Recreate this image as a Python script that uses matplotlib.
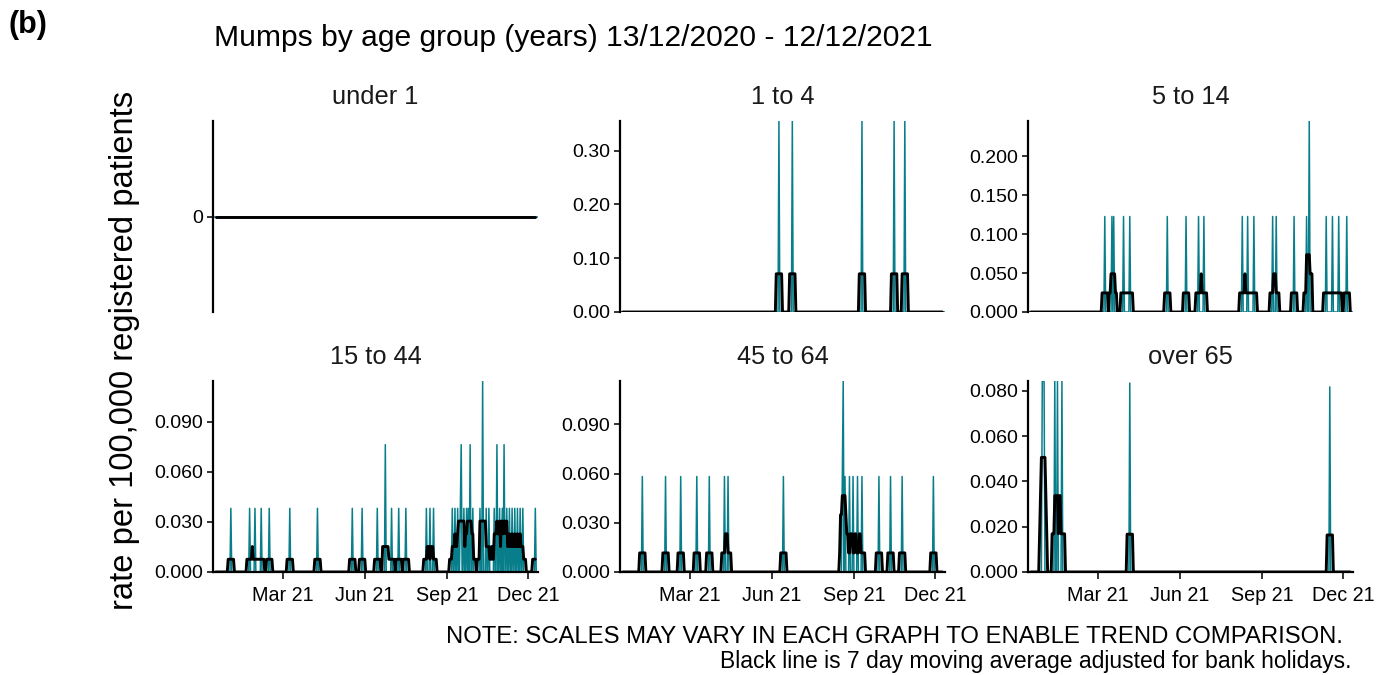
import numpy as np
import pandas as pd
import matplotlib
matplotlib.use("Agg")
import matplotlib.pyplot as plt

# ---------------- data ----------------
START = "2020-12-13"
END = "2021-12-12"

panel_titles = ["under 1", "1 to 4", "5 to 14", "15 to 44", "45 to 64", "over 65"]

# day offsets (from 13/12/2020) with recorded cases, and the daily rate per 100,000
under1_days = []
under1_rates = []

age1_4_days = [178, 193, 271, 307, 319]
age1_4_rates = [0.355, 0.355, 0.355, 0.355, 0.355]

age5_14_days = [86, 94, 96, 107, 114, 156, 177, 191, 197, 240, 246, 253, 274, 278,
                298, 312, 315, 334, 341, 348, 357]
age5_14_rates = [0.1225, 0.1225, 0.1225, 0.1225, 0.1225, 0.1225, 0.1225, 0.1225,
                 0.1225, 0.1225, 0.1225, 0.1225, 0.1225, 0.1225, 0.1225, 0.1225,
                 0.245, 0.1225, 0.1225, 0.1225, 0.1225]

age15_44_days = [20, 41, 47, 54, 63, 86, 117, 156, 167, 184, 193, 200, 208, 216,
                 239, 243, 247,
                 268, 271, 274, 277, 278, 281, 284, 286, 288, 291,
                 299, 302, 306, 309, 315, 318, 321, 324, 326, 329, 332, 335,
                 338, 341, 344, 347, 361]
age15_44_rates = [0.0381, 0.0381, 0.0381, 0.0381, 0.0381, 0.0381, 0.0381, 0.0381,
                  0.0381, 0.0381, 0.0762, 0.0381, 0.0381, 0.0381,
                  0.0381, 0.0381, 0.0381,
                  0.0381, 0.0381, 0.0381, 0.0381, 0.0762, 0.0381, 0.0381, 0.0381,
                  0.0762, 0.0381,
                  0.0381, 0.1143, 0.0381, 0.0381, 0.0381, 0.0762, 0.0381,
                  0.0381, 0.0762, 0.0381, 0.0381, 0.0381, 0.0381, 0.0381, 0.0381,
                  0.0381, 0.0381]

age45_64_days = [25, 51, 68, 86, 100, 117, 121, 183, 249, 250, 252, 257, 261, 266,
                 271, 290, 303, 316, 351]
age45_64_rates = [0.0582, 0.0582, 0.0582, 0.0582, 0.0582, 0.0582, 0.0582, 0.0582,
                  0.0582, 0.1164, 0.0582, 0.0582, 0.0582, 0.0582, 0.0582, 0.0582,
                  0.0582, 0.0582, 0.0582]

over65_days = [16, 17, 18, 30, 33, 38, 114, 338]
over65_rates = [0.0844, 0.0844, 0.0844, 0.0844, 0.0844, 0.0844, 0.0835, 0.0818]

panel_days = [under1_days, age1_4_days, age5_14_days, age15_44_days, age45_64_days, over65_days]
panel_rates = [under1_rates, age1_4_rates, age5_14_rates, age15_44_rates, age45_64_rates, over65_rates]

ytick_values = [[0],
                [0.0, 0.1, 0.2, 0.3],
                [0.0, 0.05, 0.1, 0.15, 0.2],
                [0.0, 0.03, 0.06, 0.09],
                [0.0, 0.03, 0.06, 0.09],
                [0.0, 0.02, 0.04, 0.06, 0.08]]
ytick_labels = [["0"],
                ["0.00", "0.10", "0.20", "0.30"],
                ["0.000", "0.050", "0.100", "0.150", "0.200"],
                ["0.000", "0.030", "0.060", "0.090"],
                ["0.000", "0.030", "0.060", "0.090"],
                ["0.000", "0.020", "0.040", "0.060", "0.080"]]

xtick_dates = ["2021-03-01", "2021-06-01", "2021-09-01", "2021-12-01"]
xtick_labels = ["Mar 21", "Jun 21", "Sep 21", "Dec 21"]

title = "Mumps by age group (years) 13/12/2020 - 12/12/2021"
ylabel = "rate per 100,000 registered patients"
note1 = "NOTE: SCALES MAY VARY IN EACH GRAPH TO ENABLE TREND COMPARISON."
note2 = "Black line is 7 day moving average adjusted for bank holidays."

# ---------------- figure ----------------
plt.rcParams["font.family"] = ["Liberation Sans", "DejaVu Sans"]
W, H = 1381, 675
fig = plt.figure(figsize=(W / 100, H / 100), dpi=100)

TEAL = "#087E8B"
dates = pd.date_range(START, END, freq="D")

col_x = [213, 620, 1028]
pan_w = 325
row_top = [121, 381]
pan_h = 191


def fx(px):
    return px / W


def fy(py):
    return 1 - py / H


for i in range(6):
    r, c = divmod(i, 3)
    ax = fig.add_axes([fx(col_x[c]), fy(row_top[r] + pan_h), pan_w / W, pan_h / H])
    daily = np.zeros(len(dates))
    for d, v in zip(panel_days[i], panel_rates[i]):
        daily[d] = v
    s = pd.Series(daily, index=dates)
    ma = s.rolling(7, center=True).sum() / 5.0

    ax.plot(dates, daily, color=TEAL, lw=1.1, zorder=2)
    ax.plot(dates, ma.values, color="black", lw=2.1, solid_joinstyle="round",
            solid_capstyle="round", zorder=3)

    ax.set_xlim(dates[0], dates[-1])
    if i == 0:
        ax.set_ylim(-1, 1)
    else:
        ax.set_ylim(0, max(panel_rates[i]))
    ax.set_yticks(ytick_values[i])
    ax.set_yticklabels(ytick_labels[i])

    for sp in ["top", "right"]:
        ax.spines[sp].set_visible(False)
    ax.spines["left"].set_linewidth(1.6)
    ax.spines["bottom"].set_linewidth(1.6)
    ax.tick_params(axis="y", length=4, width=1.4, color="#333333",
                   labelsize=14, pad=3, labelcolor="black")
    if r == 1:
        ax.set_xticks([pd.Timestamp(t) for t in xtick_dates])
        ax.set_xticklabels(xtick_labels)
        ax.tick_params(axis="x", length=5, width=1.4, color="#333333",
                       labelsize=14.2, pad=5, labelcolor="black")
    else:
        ax.spines["bottom"].set_visible(False)
        ax.set_xticks([])
    ax.patch.set_alpha(0)

    fig.text(fx(col_x[c] + pan_w / 2), fy(row_top[r] - 24), panel_titles[i],
             ha="center", va="center", fontsize=18.3, color="#1a1a1a")

fig.text(fx(8), fy(25), "(b)", ha="left", va="center", fontsize=22,
         fontweight="bold", color="black")
fig.text(fx(214), fy(38), title, ha="left", va="center", fontsize=21.6, color="black")
fig.text(fx(125), fy(350), ylabel, ha="center", va="center", rotation=90,
         fontsize=23.6, color="black")
fig.text(fx(1343), fy(643), note1, ha="right", va="baseline", fontsize=17.2, color="black")
fig.text(fx(1352), fy(668), note2, ha="right", va="baseline", fontsize=16.5, color="black")

fig.savefig("out.png", dpi=100)
